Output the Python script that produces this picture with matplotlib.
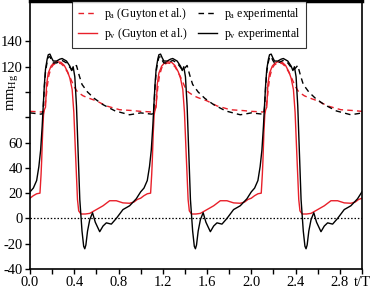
import numpy as np
import matplotlib
matplotlib.use('Agg')
import matplotlib.pyplot as plt
from matplotlib.ticker import MultipleLocator

plt.rcParams['font.family'] = 'Liberation Serif'
plt.rcParams['mathtext.fontset'] = 'custom'
plt.rcParams['mathtext.rm'] = 'Liberation Serif'
plt.rcParams['mathtext.it'] = 'Liberation Serif:italic'

# one cardiac cycle (t/T), repeated three times
t_pv_exp = [0, 0.03, 0.06, 0.08, 0.096, 0.11, 0.12, 0.13, 0.14, 0.155, 0.165, 0.18,
            0.195, 0.21, 0.24, 0.27, 0.29, 0.33, 0.36, 0.376, 0.39, 0.405, 0.42,
            0.435, 0.45, 0.47, 0.485, 0.495, 0.505, 0.52, 0.54, 0.565, 0.59, 0.63,
            0.66, 0.69, 0.735, 0.78, 0.84, 0.90, 0.96]
pv_exp = [21, 24, 30, 41, 54, 73, 90, 106, 118, 126, 129.5, 130,
          127, 124.5, 124.5, 126, 126.5, 124.5, 120.5, 117, 120, 112, 89,
          52, 15, -10, -22, -24, -21, -10, -1, 4.5, -3, -10.5,
          -6, -3.5, -4.5, 0, 7, 10, 15.5]

t_pv_guy = [0, 0.03, 0.06, 0.09, 0.1, 0.105, 0.114, 0.122, 0.13, 0.14, 0.145, 0.15,
            0.165, 0.19, 0.21, 0.24, 0.28, 0.31, 0.34, 0.36, 0.381, 0.396, 0.411,
            0.429, 0.44, 0.46, 0.5, 0.54, 0.6, 0.66, 0.72, 0.78, 0.84, 0.9, 0.94, 0.97]
pv_guy = [16, 18, 19.5, 20, 35, 45, 68, 82, 86, 88, 97, 106,
          115, 120.5, 122.5, 124, 123.5, 121, 116, 111, 102, 84, 52,
          15, 6, 3.5, 3.5, 4, 7, 10, 14, 14, 12.3, 12, 13, 15]

t_pa_guy = [0, 0.05, 0.1, 0.12, 0.13, 0.145, 0.155, 0.17, 0.19, 0.21, 0.24, 0.28,
            0.31, 0.34, 0.36, 0.38, 0.4, 0.43, 0.48, 0.52, 0.6, 0.69, 0.81, 0.93]
pa_guy = [84.7, 84.5, 84.2, 84.5, 86, 95, 104, 113, 119, 121.5, 123, 122.5,
          120, 115.5, 112, 108, 104, 100, 97, 95.5, 93, 89, 86, 85.3]

t_pa_exp = [0, 0.05, 0.1, 0.113, 0.12, 0.13, 0.14, 0.155, 0.165, 0.18, 0.195, 0.21,
            0.24, 0.29, 0.33, 0.36, 0.38, 0.4, 0.42, 0.445, 0.47, 0.52, 0.58, 0.66,
            0.77, 0.9, 0.97]
pa_exp = [83.5, 83, 82.5, 83, 88, 104, 116, 124, 127.5, 128, 125, 123,
          123, 125, 123, 119.5, 117.5, 119, 121, 113, 106, 100, 95, 90,
          85, 82, 83]

xticks = [0, 0.4, 0.8, 1.2, 1.6, 2.0, 2.4, 2.8, 3.0]
xticklabels = ['0.0', '0.4', '0.8', '1.2', '1.6', '2.0', '2.4', '2.8', 't/T']
yticks = [-40, -20, 0, 20, 40, 60, 80, 100, 120, 140]
yticklabels = ['-40', '-20', '0', '20', '40', '60', '', '', '120', '140']

n_cycles = 3


def repeat(t, v):
    t = np.asarray(t)
    tt = np.concatenate([t + k for k in range(n_cycles)] + [[n_cycles]])
    vv = np.concatenate([np.asarray(v, float)] * n_cycles + [[v[0]]])
    return tt, vv


red = '#e8202a'

fig = plt.figure(figsize=(3.77, 2.88), dpi=100)
ax = fig.add_axes([0.0796, 0.066, 0.8804, 0.9305])

ax.axhline(0, color='black', lw=0.9, ls=(0, (1.2, 1.5)))
ax.plot(*repeat(t_pa_guy, pa_guy), color=red, lw=1.0, ls=(0, (4, 3)),
        label=r'p$_\mathrm{a}$ (Guyton et al.)')
ax.plot(*repeat(t_pv_guy, pv_guy), color=red, lw=1.0,
        label=r'p$_\mathrm{v}$ (Guyton et al.)')
ax.plot(*repeat(t_pa_exp, pa_exp), color='black', lw=1.0, ls=(0, (4, 3)),
        label=r'p$_\mathrm{a}$ experimental')
ax.plot(*repeat(t_pv_exp, pv_exp), color='black', lw=1.0,
        label=r'p$_\mathrm{v}$ experimental')

ax.set_xlim(0, 3.0)
ax.set_ylim(-40, 172)
ax.set_xticks(xticks)
ax.set_xticklabels(xticklabels)
ax.xaxis.set_minor_locator(MultipleLocator(0.2))
ax.set_yticks(yticks)
ax.set_yticklabels(yticklabels)
ax.tick_params(which='both', direction='out', length=3.5, width=1, labelsize=10.5, pad=1.5)
for s in ['left', 'bottom', 'right']:
    ax.spines[s].set_linewidth(1.2)
ax.spines['top'].set_linewidth(2.5)

ax.set_ylabel(r'mm$_\mathrm{Hg}$', fontsize=10.5)
ax.yaxis.set_label_coords(-0.03, 0.66)

leg = ax.legend(ncol=2, loc='upper center', bbox_to_anchor=(0.479, 1.0),
                fontsize=8.5, frameon=True, fancybox=False, edgecolor='black',
                handlelength=1.6, handletextpad=0.6, columnspacing=0.9,
                borderaxespad=0, labelspacing=0.35, borderpad=0.45)
leg.get_frame().set_linewidth(0.8)

fig.savefig('out.png', dpi=100)
